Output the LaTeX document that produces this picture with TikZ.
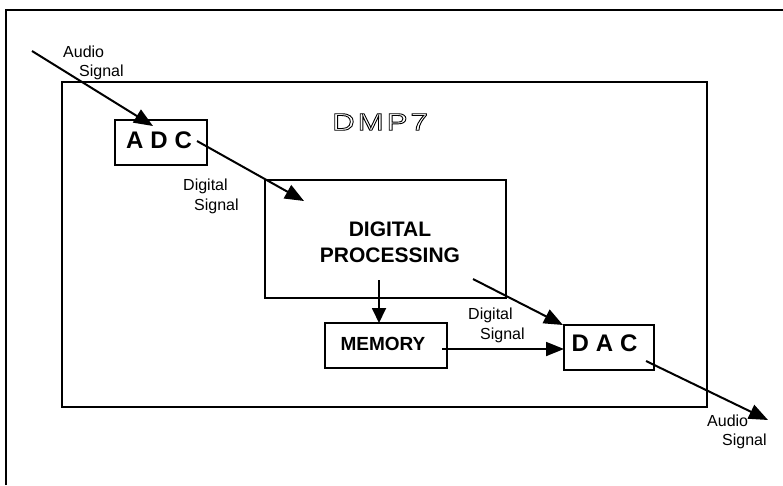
\documentclass[tikz,border=0pt]{standalone}
\usepackage{fontspec}
\setmainfont{Liberation Sans}
\newfontfamily\widefont[FakeStretch=1.3]{Liberation Sans}
\usetikzlibrary{arrows.meta}
\newcommand{\hollowtext}[1]{\special{pdf:literal direct 1 Tr 0.9 w}#1\special{pdf:literal direct 0 Tr}}
\tikzset{
  frame/.style={line width=1.8pt},
  box/.style={draw, line width=1.8pt, inner sep=0pt, anchor=north west},
  lbl/.style={font=\fontsize{16}{18}\selectfont, anchor=west, inner sep=0pt},
  big/.style={font=\fontsize{21}{26}\selectfont\bfseries, inner sep=0pt, align=center},
  sig/.style={line width=2pt, -{Triangle[length=19pt,width=15pt]}},
}
\begin{document}
\begin{tikzpicture}[x=1pt,y=-1pt]
\useasboundingbox (0,0) rectangle (783,485);
% outer frame (open at right and bottom)
\draw[frame] (6,485) -- (6,10) -- (783,10);
% inner frame
\draw[frame] (62,82) rectangle (707,407);
% boxes
\node[box, minimum width=92pt, minimum height=45pt] (adc) at (114,119) {};
\node[big, font=\fontsize{24}{26}\selectfont\bfseries] (adct) at (159,140) {A\hspace{7pt}D\hspace{7pt}C};
\node[box, minimum width=241pt, minimum height=118pt] (dp) at (264,179) {};
\node[big] (dpt) at (390,242) {DIGITAL\\PROCESSING};
\node[box, minimum width=122pt, minimum height=45pt] (mem) at (324,322) {};
\node[big, font=\fontsize{19}{21}\selectfont\bfseries] (memt) at (383,344) {MEMORY};
\node[box, minimum width=90pt, minimum height=45pt] (dac) at (563,324) {};
\node[big, font=\fontsize{24}{26}\selectfont\bfseries] (dact) at (604.5,343) {D\hspace{7pt}A\hspace{7pt}C};
% outlined DMP7
\node[font=\fontsize{24}{26}\selectfont\widefont, inner sep=0pt, anchor=west] (dmp) at (332,122) {\hollowtext{D\hspace{3pt}M\hspace{3pt}P\hspace{3pt}7}};
% labels
\node[lbl] (ain1) at (63,52) {Audio};
\node[lbl] (ain2) at (79,72) {Signal};
\node[lbl] (d1a) at (183,186) {Digital};
\node[lbl] (d1b) at (194,206) {Signal};
\node[lbl] (d2a) at (468,315) {Digital};
\node[lbl] (d2b) at (480,335) {Signal};
\node[lbl] (aout1) at (707,421) {Audio};
\node[lbl] (aout2) at (722,441) {Signal};
% connector end points
\coordinate (inS) at (32,51);
\coordinate (inE) at (153,126);
\coordinate (adcS) at (197,141);
\coordinate (dpE) at (304,201);
\coordinate (dpS1) at (379,280);
\coordinate (memE) at (379,323);
\coordinate (dpS2) at (473,279);
\coordinate (dacE1) at (563,325);
\coordinate (memS) at (442,349);
\coordinate (dacE2) at (564,349);
\coordinate (dacS) at (646,361);
\coordinate (outE) at (768,420);
% connectors
\draw[sig] (inS) -- (inE);
\draw[sig] (adcS) -- (dpE);
\draw[line width=1.8pt, -{Triangle[length=15pt,width=14pt]}] (dpS1) -- (memE);
\draw[sig] (dpS2) -- (dacE1);
\draw[line width=1.8pt, -{Triangle[length=18pt,width=14pt]}] (memS) -- (dacE2);
\draw[sig] (dacS) -- (outE);
\end{tikzpicture}
\end{document}
